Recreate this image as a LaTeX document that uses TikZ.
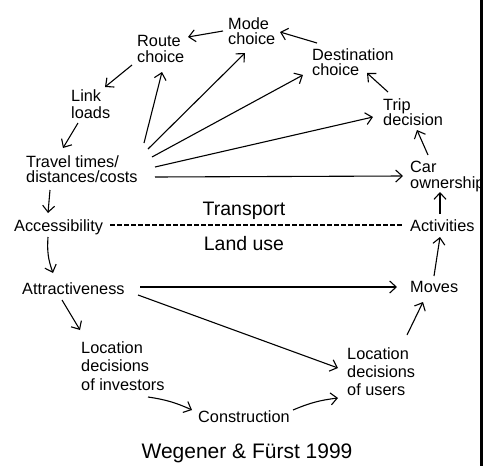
\documentclass[tikz,border=0pt]{standalone}
\usepackage{fontspec}
\setmainfont{Liberation Sans}
\usetikzlibrary{calc,arrows.meta}
\begin{document}
\begin{tikzpicture}[x=1pt,y=-1pt,
  lbl/.style={inner sep=0pt,anchor=north west,align=left,font=\fontsize{16.3}{15.8}\selectfont},
  arr/.style={line width=1.1pt,-{Straight Barb[length=6.5pt,width=12pt,line width=1.1pt]}},
  big/.style={inner sep=0pt,anchor=base,font=\fontsize{19.5}{22}\selectfont}]
\useasboundingbox (0,0) rectangle (483,466);
\fill[white] (0,0) rectangle (483,466);
% nodes
\node[lbl] (mode) at (228,17) {Mode\\choice};
\node[lbl] (route) at (137,35) {Route\\choice};
\node[lbl] (dest) at (312,48) {Destination\\choice};
\node[lbl] (trip) at (383,98) {Trip\\decision};
\node[lbl] (car) at (410,161) {Car\\ownership};
\node[lbl,font=\fontsize{16.3}{17.5}\selectfont] (link) at (71,89) {Link\\loads};
\node[lbl] (trav) at (26,155) {Travel times/\\distances/costs};
\node[lbl] (acc) at (14,219) {Accessibility};
\node[lbl] (act) at (410,219) {Activities};
\node[lbl] (attr) at (22,282) {Attractiveness};
\node[lbl] (moves) at (410,281) {Moves};
\node[lbl,font=\fontsize{16.3}{18.8}\selectfont] (inv) at (81,341) {Location\\decisions\\of investors};
\node[lbl,font=\fontsize{16.3}{18.3}\selectfont] (users) at (347,347) {Location\\decisions\\of users};
\node[lbl] (constr) at (198,410) {Construction};
\node[big] (tr) at (244,215) {Transport};
\node[big] (lu) at (244,250) {Land use};
\node[inner sep=0pt,anchor=base,font=\fontsize{21}{24}\selectfont] (ref) at (247,458) {Wegener \& F\"urst 1999};
% connectors
\draw[arr] ($(mode.north west)+(-5,14)$) -- ($(route.north west)+(51,2)$);
\draw[arr] ($(dest.north west)+(5,-5)$) -- ($(mode.north west)+(52,15)$);
\draw[arr] ($(trip.north west)+(5,-6)$) -- ($(dest.north west)+(55,25)$);
\draw[arr] ($(car.north west)+(18,-6)$) -- ($(trip.north west)+(34,32)$);
\draw[arr] ($(act.north west)+(30,-5)$) -- ($(car.north west)+(30,31)$);
\draw[arr] ($(moves.north west)+(24,-5)$) -- ($(act.north west)+(30,18)$);
\draw[arr] ($(users.north west)+(60,-12)$) -- ($(moves.north west)+(13,21)$);
\draw[arr] ($(constr.north west)+(95,0)$) to[bend left=8] ($(users.north west)+(-9,51)$);
\draw[arr] ($(inv.north west)+(67,56)$) to[bend left=8] ($(constr.north west)+(-6,0)$);
\draw[arr] ($(attr.north west)+(40,18)$) -- ($(inv.north west)+(-1,-11)$);
\draw[arr] ($(acc.north west)+(34,18)$) to[bend right=12] ($(attr.north west)+(31,-9)$);
\draw[arr] ($(trav.north west)+(24,35)$) -- ($(acc.north west)+(34,-6)$);
\draw[arr] ($(link.north west)+(7,34)$) -- ($(trav.north west)+(37,-7)$);
\draw[arr] ($(route.north west)+(-5,30)$) -- ($(link.north west)+(34,-2)$);
\draw[arr] ($(trav.north west)+(118,-12)$) -- ($(route.north west)+(25,37)$);
\draw[arr] ($(trav.north west)+(122,-6)$) -- ($(mode.north west)+(17,36)$);
\draw[arr] ($(trav.north west)+(126,2)$) -- ($(dest.north west)+(-9,27)$);
\draw[arr] ($(trav.north west)+(129,12)$) -- ($(trip.north west)+(-10,19)$);
\draw[arr] ($(trav.north west)+(129,22)$) -- ($(car.north west)+(-7,15)$);
\draw[arr] ($(attr.north west)+(118,5)$) -- ($(moves.north west)+(-13,6)$);
\draw[arr] ($(attr.north west)+(116,13)$) -- ($(users.north west)+(-9,21)$);
\draw[line width=1.1pt,dash pattern=on 4.5pt off 2.5pt] ($(acc.north west)+(96,6)$) -- ($(act.north west)+(-7,6)$);
% right edge bar
\fill[black] (480,0) rectangle (483,466);
\end{tikzpicture}
\end{document}
